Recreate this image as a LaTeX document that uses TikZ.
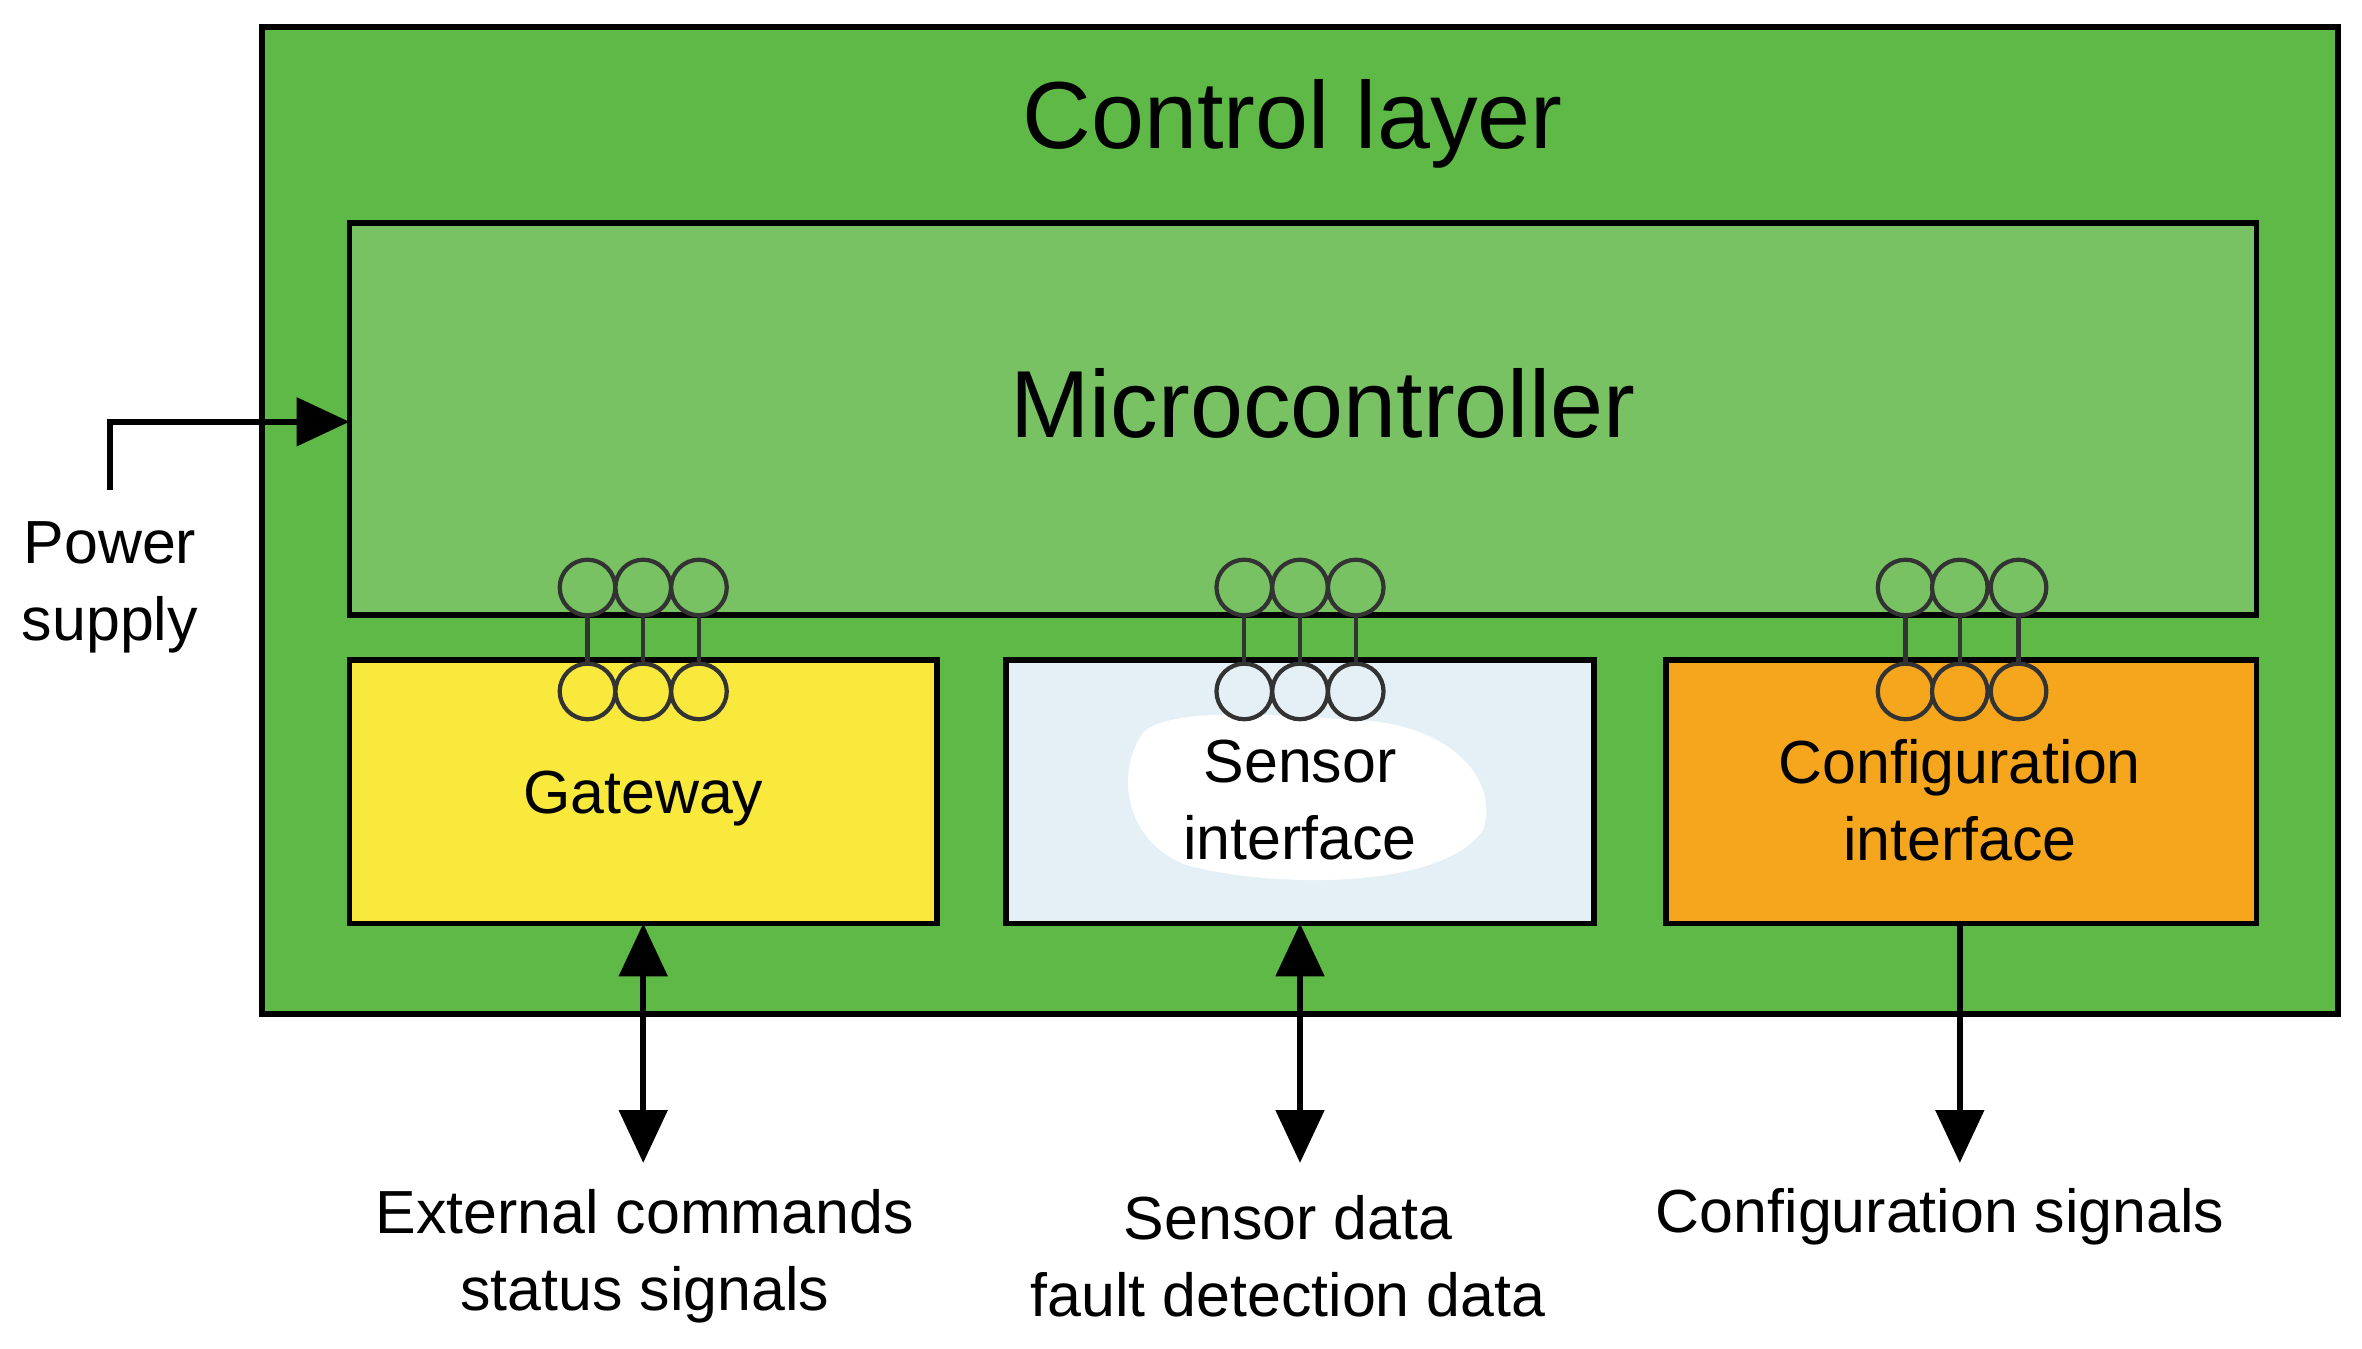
\documentclass[tikz,border=0pt]{standalone}
\usepackage{fontspec}
\setmainfont{Liberation Sans}
\usetikzlibrary{arrows.meta}
\definecolor{outerg}{HTML}{5FB946}
\definecolor{microg}{HTML}{78C264}
\definecolor{gwy}{HTML}{F8E93C}
\definecolor{sens}{HTML}{E4F0F5}
\definecolor{conf}{HTML}{F5A61C}
\begin{document}
\begin{tikzpicture}[x=0.02cm,y=-0.02cm,
  box/.style={draw=black,line width=2.2pt},
  pin/.style={circle,draw=black!80,line width=1.6pt,minimum size=21pt,inner sep=0pt},
  lbl/.style={font=\fontsize{23}{29}\selectfont,align=center},
  arr/.style={line width=2.4pt,-{Triangle[length=20pt,width=18pt]}},
  darr/.style={line width=2.4pt,{Triangle[length=20pt,width=18pt]}-{Triangle[length=20pt,width=18pt]}}]
\useasboundingbox (0,0) rectangle (1568,895.5);
\fill[white] (0,0) rectangle (1568,895.5);
\draw[box,fill=outerg] (174,18) rectangle (1552,673);
\node[font=\fontsize{36}{40}\selectfont] (title) at (858,82) {Control layer};
\draw[box,fill=microg] (232,148) rectangle (1498,408);
\node[font=\fontsize{36}{40}\selectfont] (mc) at (878,268) {Microcontroller};
\coordinate (mcleft) at (232,280);
\draw[box,fill=gwy] (232,438) rectangle (622,613);
\draw[box,fill=sens] (668,438) rectangle (1058,613);
\fill[white] (760,485) .. controls (740,510) and (745,560) .. (790,575)
  .. controls (850,590) and (960,590) .. (985,550)
  .. controls (995,515) and (960,480) .. (900,478)
  .. controls (840,474) and (780,470) .. (760,485);
\draw[box,fill=conf] (1106,438) rectangle (1498,613);
\node[lbl] (gw) at (427,530) {Gateway};
\node[lbl] (si) at (863,531) {Sensor\\interface};
\node[lbl] (ci) at (1301,531) {Configuration\\interface};
\foreach \x/\c in {390/gwy,427/gwy,464/gwy,826/sens,863/sens,900/sens,1265/conf,1301/conf,1340/conf}{
  \draw[line width=1.6pt,black!80] (\x,390) -- (\x,459);
  \node[pin,fill=microg] at (\x,390) {};
  \node[pin,fill=\c] at (\x,459) {};
}
\coordinate (gwb) at (427,613);
\coordinate (gwe) at (427,772);
\coordinate (sib) at (863,613);
\coordinate (sie) at (863,772);
\coordinate (cib) at (1301,613);
\coordinate (cie) at (1301,772);
\draw[darr] (gwe) -- (gwb);
\draw[darr] (sie) -- (sib);
\draw[arr] (cib) -- (cie);
\coordinate (ps) at (73,325);
\draw[arr] (ps) |- (mcleft);
\node[lbl] (psl) at (73,390) {Power\\supply};
\node[lbl] (l1) at (428,834) {External commands\\status signals};
\node[lbl] (l2) at (855,834) {Sensor data\\fault detection data};
\node[lbl] (l3) at (1288,808) {Configuration signals};
\end{tikzpicture}
\end{document}
